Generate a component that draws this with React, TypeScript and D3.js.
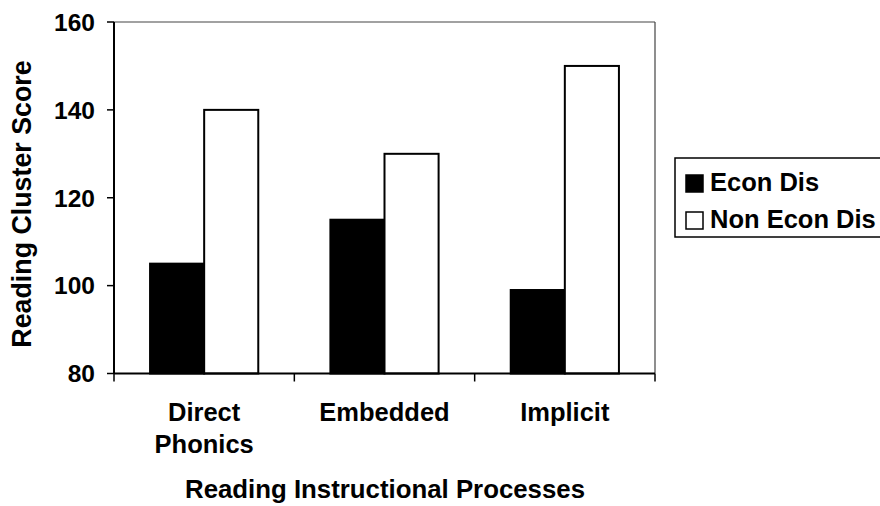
import React from "react";
import * as d3 from "d3";

const categories: string[][] = [["Direct", "Phonics"], ["Embedded"], ["Implicit"]];
const categoryKeys = ["Direct Phonics", "Embedded", "Implicit"];
const seriesNames = ["Econ Dis", "Non Econ Dis"];
const econDis = [105, 115, 99];
const nonEconDis = [140, 130, 150];
const yTicks = [80, 100, 120, 140, 160];
const xTitle = "Reading Instructional Processes";
const yTitle = "Reading Cluster Score";

const W = 880;
const H = 506;
const left = 114;
const right = 655;
const top = 22;
const bottom = 373.5;
const FONT = "'Liberation Sans', Arial, Helvetica, sans-serif";

export default function App() {
  const x0 = d3.scaleBand<string>().domain(categoryKeys).range([left, right]).paddingInner(0.4).paddingOuter(0.2);
  const x1 = d3.scaleBand<string>().domain(seriesNames).range([0, x0.bandwidth()]);
  const y = d3.scaleLinear().domain([80, 160]).range([bottom, top]);
  const seriesValues = [econDis, nonEconDis];
  const fills = ["#000", "#fff"];
  const step = x0.step();
  const boundaries = d3.range(categoryKeys.length + 1).map((i) => left + i * step);

  return (
    <svg width={W} height={H} style={{ position: "absolute", left: 0, top: 0, background: "#fff" }} fontFamily={FONT} fontWeight="bold">
      <rect x={0} y={0} width={W} height={H} fill="#fff" />
      {/* frame top & right */}
      <line x1={left} x2={right} y1={top} y2={top} stroke="#444" strokeWidth={1.2} />
      <line x1={right} x2={right} y1={top} y2={bottom} stroke="#444" strokeWidth={1.2} />
      {/* bars */}
      {categoryKeys.map((c, ci) =>
        seriesNames.map((s, si) => {
          const v = seriesValues[si][ci];
          const bx = (x0(c) as number) + (x1(s) as number);
          const by = y(v);
          return (
            <rect
              key={c + s}
              x={bx}
              y={by}
              width={x1.bandwidth()}
              height={bottom - by}
              fill={fills[si]}
              stroke="#000"
              strokeWidth={2}
            />
          );
        })
      )}
      {/* axes */}
      <line x1={left} x2={left} y1={top} y2={bottom} stroke="#000" strokeWidth={2} />
      <line x1={left} x2={right} y1={bottom} y2={bottom} stroke="#000" strokeWidth={2} />
      {yTicks.map((t) => (
        <g key={t}>
          <line x1={left - 7} x2={left} y1={y(t)} y2={y(t)} stroke="#000" strokeWidth={1.5} />
          <text x={95} y={y(t)} dy="0.36em" textAnchor="end" fontSize={24.5}>
            {t}
          </text>
        </g>
      ))}
      {boundaries.map((b, i) => (
        <line key={i} x1={b} x2={b} y1={bottom} y2={bottom + 8} stroke="#000" strokeWidth={1.5} />
      ))}
      {categoryKeys.map((c, ci) => (
        <text key={c} x={(x0(c) as number) + x0.bandwidth() / 2} y={421} textAnchor="middle" fontSize={25.5}>
          {categories[ci].map((line, li) => (
            <tspan key={li} x={(x0(c) as number) + x0.bandwidth() / 2} dy={li === 0 ? 0 : 32}>
              {line}
            </tspan>
          ))}
        </text>
      ))}
      <text x={385} y={498} textAnchor="middle" fontSize={25.8}>
        {xTitle}
      </text>
      <text transform={`translate(31, 204) rotate(-90)`} textAnchor="middle" fontSize={26.8}>
        {yTitle}
      </text>
      {/* legend */}
      <rect x={675} y={158} width={215} height={79} fill="#fff" stroke="#000" strokeWidth={1.5} />
      {seriesNames.map((s, si) => (
        <g key={s}>
          <rect x={686} y={175 + si * 37} width={17} height={17} fill={fills[si]} stroke="#000" strokeWidth={1.5} />
          <text x={710} y={191 + si * 37} fontSize={25.5}>
            {s}
          </text>
        </g>
      ))}
    </svg>
  );
}
